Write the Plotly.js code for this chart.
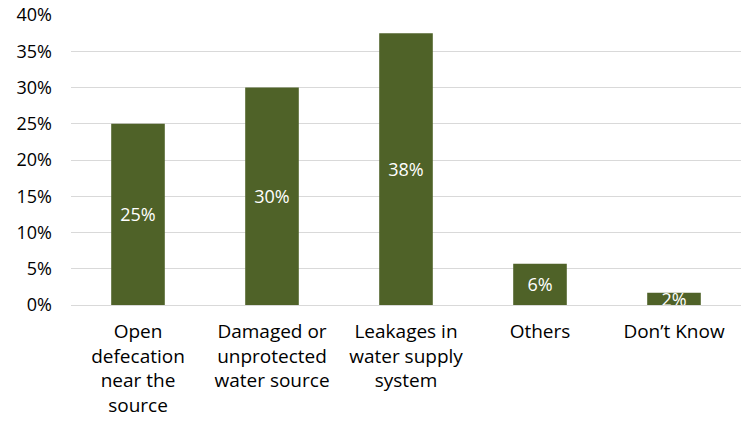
<!DOCTYPE html>
<html>
<head>
<meta charset="utf-8">
<script src="https://cdn.plot.ly/plotly-3.0.1.min.js"></script>
<style>
  html, body { margin: 0; padding: 0; background: #fff; }
  #chart { width: 748px; height: 422px; }
</style>
</head>
<body>
<div id="chart"></div>
<script>
// Reported causes of water contamination (share of respondents)
const categories = [
  "Open<br>defecation<br>near the<br>source",
  "Damaged or<br>unprotected<br>water source",
  "Leakages in<br>water supply<br>system",
  "Others",
  "Don’t Know"
];
const shares = [0.25, 0.30, 0.375, 0.057, 0.017];
const tickValues = [0, 0.05, 0.10, 0.15, 0.20, 0.25, 0.30, 0.35, 0.40];
const tickLabels = ["0%", "5%", "10%", "15%", "20%", "25%", "30%", "35%", "40%"];

const font = "'Open Sans', 'Noto Sans', sans-serif";

Plotly.newPlot("chart", [{
  type: "bar",
  x: categories,
  y: shares,
  marker: { color: "#4F6228" },
  texttemplate: "%{y:.0%}",
  textposition: "inside",
  insidetextanchor: "middle",
  constraintext: "none",
  textfont: { color: "#ffffff", size: 18, family: font },
  hoverinfo: "none"
}], {
  width: 748,
  height: 422,
  margin: { l: 71, r: 7, t: 15, b: 117 },
  paper_bgcolor: "#ffffff",
  plot_bgcolor: "#ffffff",
  bargap: 0.6,
  showlegend: false,
  font: { family: font, color: "#000000", size: 18 },
  xaxis: {
    tickfont: { size: 19, family: font, color: "#000000" },
    showgrid: false,
    showline: false,
    ticks: "",
    ticklabelstandoff: 13,
    fixedrange: true
  },
  yaxis: {
    range: [0, 0.40],
    tickvals: tickValues,
    ticktext: tickLabels,
    tickfont: { size: 18, family: font, color: "#000000" },
    showgrid: true,
    gridcolor: "#D9D9D9",
    gridwidth: 1,
    zeroline: true,
    zerolinecolor: "#D9D9D9",
    zerolinewidth: 1,
    showline: false,
    ticks: "",
    ticklabelstandoff: 18,
    fixedrange: true
  }
}, { displayModeBar: false, staticPlot: true });
</script>
</body>
</html>
